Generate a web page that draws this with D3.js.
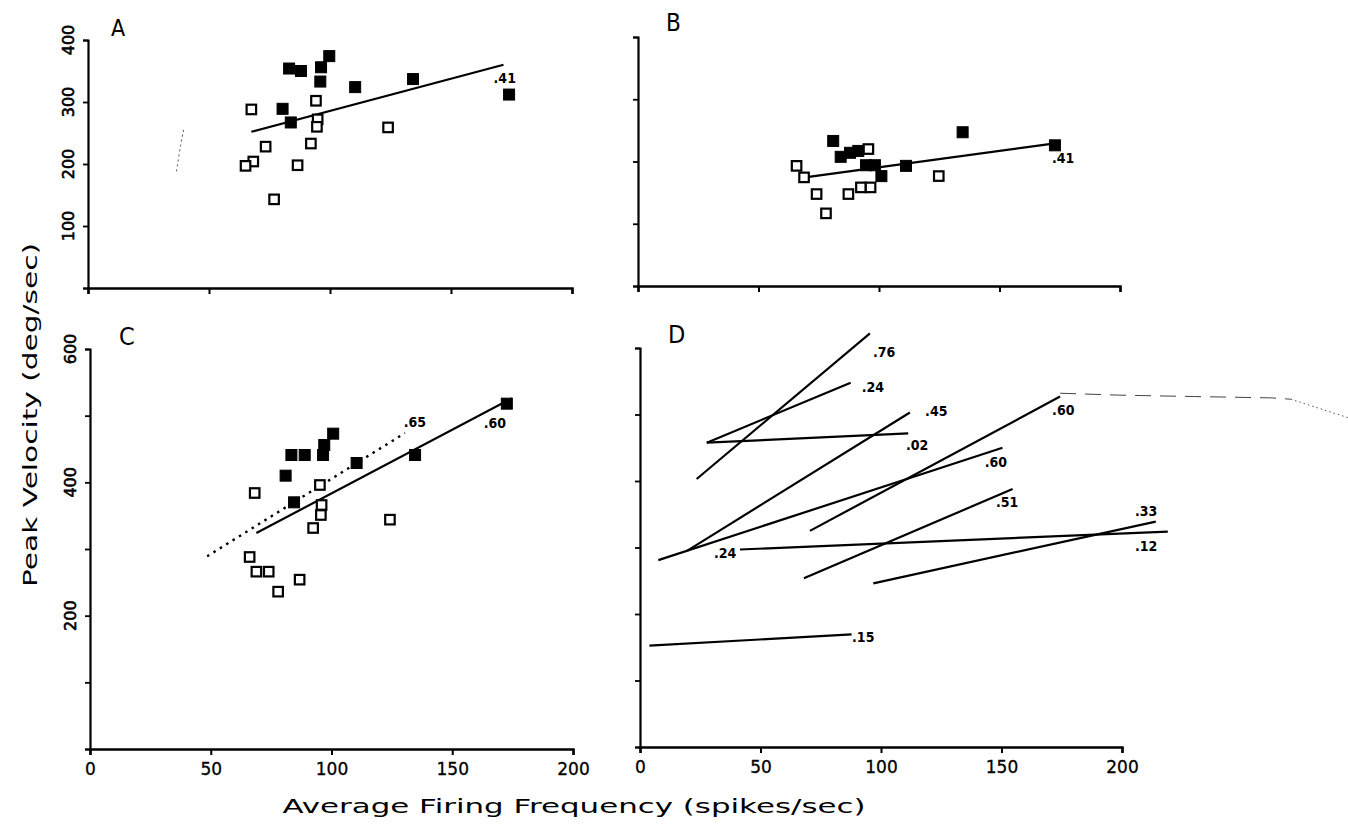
<!DOCTYPE html>
<html><head><meta charset="utf-8">
<script src="https://cdn.jsdelivr.net/npm/d3@7"></script>
<style>
body{margin:0;background:#fff}
svg{display:block;background:#fff}
</style>
</head><body>
<svg id="chart" width="1348" height="825"></svg>
<script>
// ---------------- DATA ----------------
const xTicks = [0, 50, 100, 150, 200];
const xTickLabels = ["0", "50", "100", "150", "200"];
const yTicksAB = [0, 100, 200, 300, 400];
const yTickLabelsA = ["", "100", "200", "300", "400"];
const yTicksCD = [0, 100, 200, 300, 400, 500, 600];
const yTickLabelsC = ["", "", "200", "", "400", "", "600"];
const panelLetters = ["A", "B", "C", "D"];
const xTitle = "Average Firing Frequency (spikes/sec)";
const yTitle = "Peak Velocity (deg/sec)";

// Panel A  [firing freq, peak velocity]
const aFilled = [[99.7,374],[96.3,356],[96,333],[83.1,354],[88,350],[110.4,324],[134.3,337],[174,312],[80.4,289],[83.8,267]];
const aOpen = [[67.5,288],[94.2,302],[94.9,272],[94.6,260],[124,259],[73.4,228],[92.1,233],[68.3,204],[65.1,197],[86.6,198],[76.9,143]];
const aFit = [[67.5,252],[171.7,360]];
const aR = [".41", 167.6, 339];

// Panel B
const bFilled = [[81,233],[84.1,207.5],[88,214],[91.4,217],[94.6,194],[98.3,194],[101,176.5],[111.2,193],[134.7,247],[173,226]];
const bOpen = [[65.8,193],[68.9,174.5],[74.1,147.7],[78,116.7],[87.3,147.7],[92.5,158.4],[96.5,158.4],[95.6,220],[124.8,176.6]];
const bFit = [[69.3,174.5],[173,229]];
const bR = [".41", 171.8, 205];

// Panel C
const cFilled = [[172.6,518],[134.6,441],[110.4,429],[100.7,473],[97,456],[96.5,441],[83.4,441],[88.9,441],[81,410],[84.5,370]];
const cOpen = [[68.2,384],[95.2,396],[95.9,366],[95.6,351],[92.4,331.5],[124.2,344],[66.1,288],[68.9,266],[74,266],[86.8,254],[77.9,236]];
const cFitSolid = [[68.9,324],[174.7,526]];
const cFitDotted = [[48.5,289],[130.4,474]];
const cLabels = [[".65",129.9,490],[".60",163,489.5]];

// Panel D: regression lines, r values, label anchors
const dLineStart = [[23.5,403],[27.7,457.6],[19.5,295],[27.7,457.6],[70.5,325],[7.6,281],[68,253.6],[96.8,246],[41.5,297],[3.9,152.4]];
const dLineEnd   = [[95.4,622],[87.4,547.8],[112,503],[111.3,471.7],[174.3,527],[150.4,450],[154.6,388],[214,339],[219,324],[87.8,169.4]];
const dLineR     = [".76",".24",".45",".02",".60",".60",".51",".33",".12",".15"];
const dLabelAt   = [[96.7,594],[92,542],[118.3,505],[110.4,453.7],[171,507],[143,429],[147.7,367.7],[205.4,355.6],[205.4,302.7],[88,166]];
const dExtraLabel = [".24", 30.7, 291.3];

// faint scan marks present in the source figure
const aScanMark = [[39.5,255],[38.5,235],[37.5,212],[36.5,187]];
const dScanDash = [[174.3,532],[200,529],[230,527],[262,525],[270,523]];
const dScanDot = [[270,523],[294,495]];

// ---------------- LAYOUT ----------------
const W = 1348, H = 825;
const layout = {
  A: {x0: 88,  x1: 572,  y0: 288, y1: 40,  yMax: 400, yTicks: yTicksAB, yLab: yTickLabelsA, xLab: false, letter: [111, 36, 23]},
  B: {x0: 638, x1: 1120, y0: 286, y1: 37,  yMax: 400, yTicks: yTicksAB, yLab: null,         xLab: false, letter: [666, 31, 24]},
  C: {x0: 90,  x1: 573,  y0: 749, y1: 349, yMax: 600, yTicks: yTicksCD, yLab: yTickLabelsC, xLab: true,  letter: [119, 345, 25]},
  D: {x0: 640, x1: 1122, y0: 747, y1: 348, yMax: 600, yTicks: yTicksCD, yLab: null,         xLab: true,  letter: [668, 343, 25]}
};

const svg = d3.select("#chart");
svg.append("rect").attr("width", W).attr("height", H).attr("fill", "#fff");

const tickFont = "'DejaVu Sans', 'Noto Sans', sans-serif";
const narrowFont = "'DejaVu Sans Condensed', 'Liberation Sans Narrow', 'DejaVu Sans', sans-serif";

const scales = {};
panelLetters.forEach(key => {
  const L = layout[key];
  const x = d3.scaleLinear().domain([0, 200]).range([L.x0, L.x1]);
  const y = d3.scaleLinear().domain([0, L.yMax]).range([L.y0, L.y1]);
  scales[key] = {x, y};
  const g = svg.append("g").attr("class", "panel-" + key);

  const xAxis = d3.axisBottom(x).tickValues(xTicks).tickSize(6).tickSizeOuter(6).tickPadding(8)
    .tickFormat((d, i) => L.xLab ? xTickLabels[i] : "");
  const gx = g.append("g").attr("transform", `translate(0,${L.y0})`).call(xAxis);
  gx.select(".domain").attr("stroke", "#000").attr("stroke-width", 2.4);
  gx.selectAll(".tick line").attr("stroke", "#000").attr("stroke-width", 2);
  gx.selectAll(".tick text").attr("font-family", tickFont).attr("font-size", 17).attr("fill", "#000")
    .attr("stroke", "#000").attr("stroke-width", 0.3);

  const yAxis = d3.axisLeft(y).tickValues(L.yTicks).tickSize(5).tickSizeOuter(5).tickFormat(() => "");
  const gy = g.append("g").attr("transform", `translate(${L.x0},0)`).call(yAxis);
  gy.select(".domain").attr("stroke", "#000").attr("stroke-width", 2.2);
  gy.selectAll(".tick line").attr("stroke", "#000").attr("stroke-width", 1.8);

  if (L.yLab) {
    g.selectAll("text.ylab").data(L.yTicks.map((v, i) => [v, L.yLab[i]]).filter(d => d[1] !== ""))
      .enter().append("text").attr("class", "ylab")
      .attr("transform", d => `translate(${L.x0 - 20},${y(d[0])}) rotate(-90)`)
      .attr("text-anchor", "middle").attr("dominant-baseline", "central")
      .attr("font-family", tickFont).attr("font-size", 16).attr("fill", "#000")
      .attr("stroke", "#000").attr("stroke-width", 0.6)
      .text(d => d[1]);
  }

  g.append("text").attr("x", L.letter[0]).attr("y", L.letter[1])
    .attr("font-family", narrowFont).attr("font-size", L.letter[2]).attr("fill", "#000")
    .text(key);
});

function drawFit(key, pts, dashed) {
  const {x, y} = scales[key];
  svg.append("path")
    .attr("d", d3.line().x(d => x(d[0])).y(d => y(d[1]))(pts))
    .attr("fill", "none").attr("stroke", "#000")
    .attr("stroke-width", dashed ? 2.4 : 2.2)
    .attr("stroke-dasharray", dashed ? "2.5,5" : null);
}
function drawSquares(key, pts, filled) {
  const {x, y} = scales[key];
  const s = filled ? 11 : 9.5;
  svg.append("g").selectAll("rect").data(pts).enter().append("rect")
    .attr("x", d => x(d[0]) - s / 2).attr("y", d => y(d[1]) - s / 2)
    .attr("width", s).attr("height", s)
    .attr("fill", filled ? "#000" : "#fff")
    .attr("stroke", "#000").attr("stroke-width", filled ? 1 : 2.2);
}
function drawLabel(key, txt, vx, vy) {
  const {x, y} = scales[key];
  svg.append("text").attr("x", x(vx)).attr("y", y(vy))
    .attr("dominant-baseline", "central")
    .attr("font-family", narrowFont).attr("font-size", 14).attr("font-weight", "bold").attr("fill", "#000")
    .text(txt);
}

// Panel A
drawFit("A", aFit, false);
drawSquares("A", aOpen, false);
drawSquares("A", aFilled, true);
drawLabel("A", aR[0], aR[1], aR[2]);
svg.append("path").attr("d", d3.line().curve(d3.curveBasis).x(d => scales.A.x(d[0])).y(d => scales.A.y(d[1]))(aScanMark))
  .attr("fill", "none").attr("stroke", "#555").attr("stroke-width", 1).attr("stroke-dasharray", "2,3");

// Panel B
drawFit("B", bFit, false);
drawSquares("B", bOpen, false);
drawSquares("B", bFilled, true);
drawLabel("B", bR[0], bR[1], bR[2]);

// Panel C
drawFit("C", cFitDotted, true);
drawFit("C", cFitSolid, false);
drawSquares("C", cOpen, false);
drawSquares("C", cFilled, true);
cLabels.forEach(l => drawLabel("C", l[0], l[1], l[2]));

// Panel D
dLineStart.forEach((s, i) => {
  drawFit("D", [s, dLineEnd[i]], false);
  drawLabel("D", dLineR[i], dLabelAt[i][0], dLabelAt[i][1]);
});
drawLabel("D", dExtraLabel[0], dExtraLabel[1], dExtraLabel[2]);
svg.append("path").attr("d", d3.line().x(d => scales.D.x(d[0])).y(d => scales.D.y(d[1]))(dScanDash))
  .attr("fill", "none").attr("stroke", "#444").attr("stroke-width", 1).attr("stroke-dasharray", "16,9");
svg.append("path").attr("d", d3.line().x(d => scales.D.x(d[0])).y(d => scales.D.y(d[1]))(dScanDot))
  .attr("fill", "none").attr("stroke", "#555").attr("stroke-width", 1).attr("stroke-dasharray", "1.5,3");

// Axis titles
svg.append("text").attr("x", 574).attr("y", 813).attr("text-anchor", "middle")
  .attr("font-family", tickFont).attr("font-size", 20).attr("fill", "#000")
  .attr("textLength", 583).attr("lengthAdjust", "spacingAndGlyphs")
  .text(xTitle);
svg.append("text").attr("transform", "translate(37,415) rotate(-90)").attr("text-anchor", "middle")
  .attr("font-family", tickFont).attr("font-size", 20).attr("fill", "#000")
  .attr("textLength", 344).attr("lengthAdjust", "spacingAndGlyphs")
  .text(yTitle);
</script>
</body></html>
